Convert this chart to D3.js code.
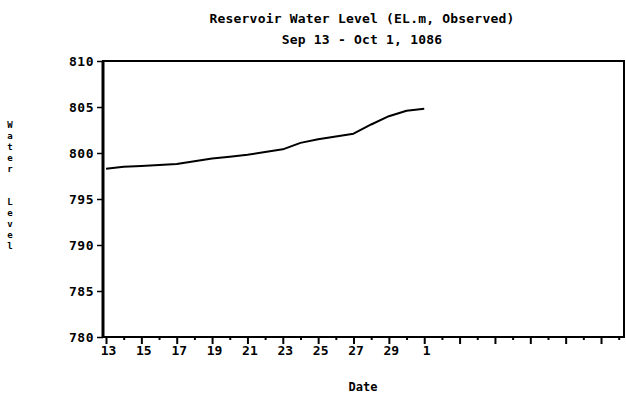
<!DOCTYPE html>
<html>
<head>
<meta charset="utf-8">
<script src="https://cdn.jsdelivr.net/npm/d3@7"></script>
<style>
  html, body { margin: 0; padding: 0; background: #fff; }
  svg { display: block; }
  text { font-family: "DejaVu Sans Mono", "Liberation Mono", monospace; font-weight: bold; fill: #000; }
</style>
</head>
<body>
<svg id="chart" width="626" height="399"></svg>
<script>
// ---- data ----
const titleLines = ["Reservoir Water Level (EL.m, Observed)", "Sep 13 - Oct 1, 1086"];
const dates = ["09-13","09-14","09-15","09-16","09-17","09-18","09-19","09-20","09-21","09-22",
               "09-23","09-24","09-25","09-26","09-27","09-28","09-29","09-30","10-01"];
const levels = [798.3, 798.5, 798.6, 798.7, 798.8, 799.1, 799.4, 799.6, 799.8, 800.1,
                800.4, 801.1, 801.5, 801.8, 802.1, 803.1, 804.0, 804.6, 804.8];
const xTickLabels = ["13","15","17","19","21","23","25","27","29","1"];
const yTickValues = [780, 785, 790, 795, 800, 805, 810];
const yLabel = "Water  Level";
const xLabel = "Date";

// ---- layout ----
const svg = d3.select("#chart");
const mLeft = 103, mRight = 624, mTop = 61, mBottom = 337;

const x = d3.scaleLinear().domain([-0.17, 29.3]).range([mLeft, mRight]);
const y = d3.scaleLinear().domain([780, 810]).range([mBottom, mTop]);

// title
svg.selectAll("text.title").data(titleLines).enter().append("text")
  .attr("class", "title")
  .attr("x", 362).attr("y", (d, i) => 23 + i * 21)
  .attr("text-anchor", "middle")
  .style("font-size", "13px")
  .style("letter-spacing", "0.2px")
  .text(d => d);

// frame
svg.append("rect")
  .attr("x", mLeft).attr("y", mTop)
  .attr("width", mRight - mLeft).attr("height", mBottom - mTop)
  .attr("fill", "none").attr("stroke", "#000").attr("stroke-width", 2);

// x axis major ticks (every 2 days), labels for the data range
const majorIdx = d3.range(0, 30, 2);
const minorIdx = d3.range(1, 30, 2);
const xMajor = d3.axisBottom(x).tickValues(majorIdx).tickSize(7).tickPadding(2)
  .tickFormat((d, i) => xTickLabels[i] !== undefined ? xTickLabels[i] : "");
const gx = svg.append("g").attr("transform", `translate(0,${mBottom})`).call(xMajor);
const xMinor = d3.axisBottom(x).tickValues(minorIdx).tickSize(3).tickFormat("");
const gx2 = svg.append("g").attr("transform", `translate(0,${mBottom})`).call(xMinor);
[gx, gx2].forEach(g => {
  g.select(".domain").remove();
  g.selectAll(".tick line").attr("stroke", "#000").attr("stroke-width", 2);
});
gx.selectAll(".tick text")
  .style("font-size", "13px")
  .style("font-family", "'DejaVu Sans Mono', monospace")
  .style("font-weight", "bold")
  .attr("dx", "2");

// y axis
const yAxis = d3.axisLeft(y).tickValues(yTickValues).tickSize(6).tickPadding(3);
const gy = svg.append("g").attr("transform", `translate(${mLeft},0)`).call(yAxis);
gy.select(".domain").remove();
gy.selectAll(".tick line").attr("stroke", "#000").attr("stroke-width", 1.5);
gy.selectAll(".tick text")
  .style("font-size", "13px")
  .style("font-family", "'DejaVu Sans Mono', monospace")
  .style("font-weight", "bold")
  .style("letter-spacing", "0.5px");

// thicker left axis line
svg.append("line").attr("x1", mLeft).attr("x2", mLeft).attr("y1", mTop).attr("y2", mBottom)
  .attr("stroke", "#000").attr("stroke-width", 3);

// line
const line = d3.line().x((d, i) => x(i)).y(d => y(d));
svg.append("path").datum(levels)
  .attr("d", line)
  .attr("fill", "none").attr("stroke", "#000").attr("stroke-width", 2)
  .attr("stroke-linejoin", "round");

// y label (vertical stacked letters)
svg.append("g").selectAll("text").data(yLabel.split("")).enter().append("text")
  .attr("x", 10).attr("y", (d, i) => 128 + i * 11)
  .attr("text-anchor", "middle")
  .style("font-size", "9px")
  .text(d => d);

// x label
svg.append("text").attr("x", 363).attr("y", 391)
  .attr("text-anchor", "middle")
  .style("font-size", "12px")
  .text(xLabel);
</script>
</body>
</html>
